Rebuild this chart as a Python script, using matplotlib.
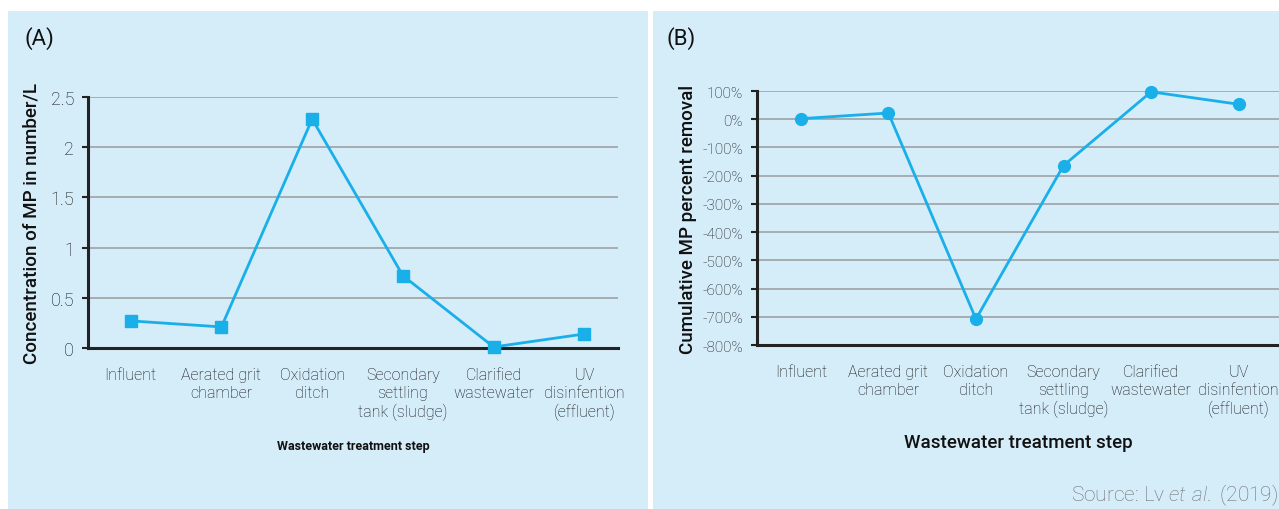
import matplotlib
matplotlib.use('Agg')
import matplotlib.pyplot as plt
from matplotlib.patches import Rectangle
from matplotlib.ticker import FuncFormatter

plt.rcParams['font.family'] = ['Roboto', 'DejaVu Sans']
plt.rcParams['mathtext.fontset'] = 'custom'
plt.rcParams['mathtext.rm'] = 'Roboto:light'
plt.rcParams['mathtext.it'] = 'Roboto:italic:light'

# data
steps = ['Influent', 'Aerated grit\nchamber', 'Oxidation\nditch',
         'Secondary\nsettling\ntank (sludge)', 'Clarified\nwastewater',
         'UV\ndisinfention\n(effluent)']
conc = [0.27, 0.21, 2.28, 0.72, 0.01, 0.14]
removal = [2, 22, -708, -164, 97, 53]
conc_ticks = [0, 0.5, 1, 1.5, 2, 2.5]
conc_labels = ['0', '0.5', '1', '1.5', '2', '2.5']
removal_ticks = list(range(-800, 101, 100))

W, H = 1279, 510
BG = '#d5ecf9'
LINE = '#19afe9'
GRID = '#9a9a9a'
SPINE = '#222222'
TXT = '#111111'

fig = plt.figure(figsize=(W / 100, H / 100), dpi=100, facecolor='white')


def box(x0, y0, x1, y1):
    # pixel box (top-left origin) -> figure fraction rect
    return [x0 / W, 1 - y1 / H, (x1 - x0) / W, (y1 - y0) / H]


def panel(x0, y0, x1, y1):
    l, b, w, h = box(x0, y0, x1, y1)
    fig.patches.append(Rectangle((l, b), w, h, transform=fig.transFigure,
                                 facecolor=BG, edgecolor='none', zorder=-5))


panel(8, 12, 648, 510)
panel(653, 12, 1279, 510)


def style(ax, ysize):
    ax.set_facecolor('none')
    for s in ['top', 'right']:
        ax.spines[s].set_visible(False)
    for s in ['left', 'bottom']:
        ax.spines[s].set_color(SPINE)
        ax.spines[s].set_linewidth(2.2)
    ax.grid(axis='y', color=GRID, linewidth=1.1)
    ax.set_axisbelow(True)
    ax.tick_params(axis='y', length=4, width=1.5, color=SPINE, pad=6,
                   labelsize=ysize, labelcolor=TXT)
    ax.tick_params(axis='x', length=0, pad=14)
    ax.set_xticks(range(len(steps)))
    ax.set_xticklabels(steps, fontsize=11.5, color=TXT, fontweight='light',
                       linespacing=1.2, ha='center', va='top')
    for t in ax.get_yticklabels():
        t.set_fontweight('light')


# (A) concentration
ax1 = fig.add_axes(box(88, 98, 618, 349))
ax1.plot(range(len(steps)), conc, color=LINE, linewidth=2, marker='s',
         markersize=9, clip_on=False, zorder=3)
ax1.set_xlim(-0.47, 5.37)
ax1.set_ylim(0, 2.5)
ax1.set_yticks(conc_ticks)
ax1.set_yticklabels(conc_labels)
style(ax1, 13)
ax1.set_ylabel('Concentration of MP in number/L', fontsize=13.5,
               fontweight='medium', color='#111111', labelpad=7)
ax1.set_xlabel('Wastewater treatment step', fontsize=9, fontweight='bold',
               color='#111111', labelpad=14)
fig.text(24 / W, 1 - 39 / H, '(A)', fontsize=16, color='#111111',
         va='center', ha='left')

# (B) cumulative removal
ax2 = fig.add_axes(box(757, 92, 1279, 346))
ax2.plot(range(len(steps)), removal, color=LINE, linewidth=2, marker='o',
         markersize=8.5, clip_on=False, zorder=3)
ax2.set_xlim(-0.5, 5.46)
ax2.set_ylim(-800, 100)
ax2.set_yticks(removal_ticks)
ax2.yaxis.set_major_formatter(FuncFormatter(lambda v, p: '%d%%' % v))
style(ax2, 11)
ax2.set_ylabel('Cumulative MP percent removal', fontsize=13.5,
               fontweight='medium', color='#111111', labelpad=4)
ax2.set_xlabel('Wastewater treatment step', fontsize=13.5,
               fontweight='medium', color='#111111', labelpad=12)
fig.text(667 / W, 1 - 39 / H, '(B)', fontsize=16, color='#111111',
         va='center', ha='left')

fig.text(1278 / W, 1 - 495 / H, 'Source: Lv $\\it{et\\ al.}$ (2019)',
         fontsize=15, color='#707070', ha='right', va='center',
         fontweight='light')

fig.savefig('out.png', dpi=100, facecolor='white')
